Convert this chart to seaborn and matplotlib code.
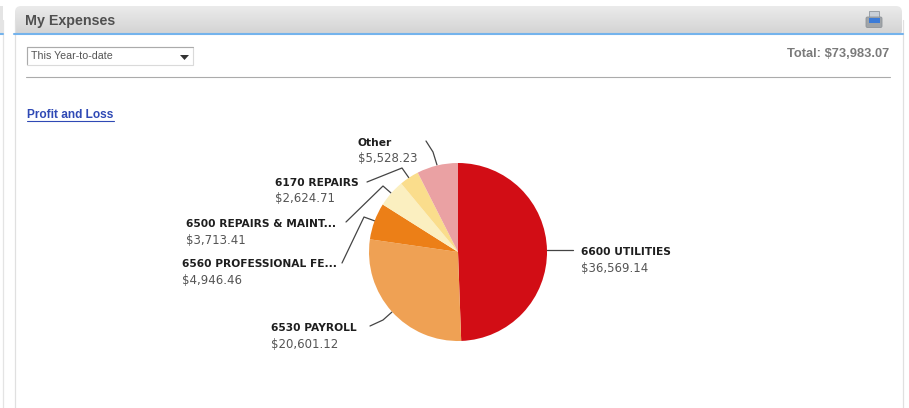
import matplotlib
matplotlib.use("Agg")
import matplotlib.pyplot as plt
import numpy as np
import seaborn as sns
from matplotlib.patches import FancyBboxPatch, Polygon, Rectangle

categories = [
    "6600 UTILITIES",
    "6530 PAYROLL",
    "6560 PROFESSIONAL FE...",
    "6500 REPAIRS & MAINT...",
    "6170 REPAIRS",
    "Other",
]
amounts = [36569.14, 20601.12, 4946.46, 3713.41, 2624.71, 5528.23]
amount_labels = ["$36,569.14", "$20,601.12", "$4,946.46", "$3,713.41", "$2,624.71", "$5,528.23"]
colors = ["#D20D15", "#EFA154", "#EC7F17", "#FBEFC0", "#FADD8C", "#EAA1A3"]
title = "My Expenses"
total_label = "Total: $73,983.07"
period_label = "This Year-to-date"
link_label = "Profit and Loss"

W, H = 909, 408
CENTER = (458, 252)
RADIUS = 89

# pixel position of each label (left edge, name baseline centre), same order as categories
label_pos = [(581, 252), (271, 328), (182, 264), (186, 224), (275, 183), (358, 143)]
leaders = [
    [(546, 250), (573, 250)],
    [(370, 326), (383, 320), (392, 312)],
    [(342, 263), (364, 217), (375, 221)],
    [(346, 222), (383, 186), (391, 193)],
    [(367, 182), (402, 168), (409, 178)],
    [(426, 141), (433, 152), (437, 165)],
]

sns.set_theme(style="white")

fig = plt.figure(figsize=(W / 100, H / 100), dpi=100, facecolor="white")
ax = fig.add_axes([0, 0, 1, 1])
ax.set_xlim(0, W)
ax.set_ylim(H, 0)
ax.axis("off")

# panel frame and header
ax.plot([14.5, 14.5], [20, H], color="#E0E0E0", lw=0.9)
ax.plot([902.5, 902.5], [20, H], color="#E0E0E0", lw=0.9)
ax.plot([2.5, 2.5], [20, H], color="#E4E4E4", lw=0.9)
ax.add_patch(Rectangle((0, 6), 3, 27, color="#E4E4E4", lw=0))
ax.plot([0, 3], [34, 34], color="#74B3EC", lw=1.5)

clip = FancyBboxPatch((15, 6), 887, 30, boxstyle="round,pad=0,rounding_size=6",
                      transform=ax.transData, fc="none", ec="none")
ax.add_patch(clip)
gradient = np.linspace(0.92, 0.83, 40).reshape(-1, 1)
header = ax.imshow(gradient, extent=(14, 903, 33, 6), cmap="gray", vmin=0, vmax=1,
                   aspect="auto", zorder=1)
header.set_clip_path(clip)
ax.set_xlim(0, W)
ax.set_ylim(H, 0)
ax.plot([14, 903], [34, 34], color="#74B3EC", lw=1.5, zorder=2)

ax.text(25, 20.5, title, family="Liberation Sans", weight="bold", fontsize=10.3,
        color="#505050", va="center", ha="left")

# printer icon
ax.add_patch(Rectangle((869, 11), 10, 7, fc="#C9D0D8", ec="#9AA1A8", lw=0.7, zorder=3))
ax.add_patch(FancyBboxPatch((866, 17), 16, 10.5, boxstyle="round,pad=0,rounding_size=1.5",
                            fc="#A0A4A8", ec="#8F9499", lw=0.6, zorder=3))
ax.add_patch(Rectangle((869, 18), 11, 4.5, fc="#3B7BD8", lw=0, zorder=4))

# dropdown
ax.add_patch(Rectangle((27, 47), 166, 17.5, fc="white", ec="#DADADA", lw=0.8))
ax.plot([27, 27, 193], [64, 47, 47], color="#ABABAB", lw=0.8)
ax.text(31, 56, period_label, family="Liberation Sans", fontsize=7.7, color="#555555",
        va="center", ha="left")
ax.add_patch(Polygon([(180, 55), (189, 55), (184.5, 60)], fc="#333333", lw=0))

ax.text(889, 54, total_label, family="Liberation Sans", weight="bold", fontsize=9.25,
        color="#7A7A7A", va="center", ha="right")
ax.plot([26, 890], [76.5, 76.5], color="#ABABAB", lw=0.8)

ax.text(27, 115, link_label, family="Liberation Sans", weight="bold", fontsize=8.6,
        color="#2F49B5", va="center", ha="left")
ax.plot([27, 114], [120.5, 120.5], color="#2F49B5", lw=0.8)

# leader lines and labels
for pts in leaders:
    ax.plot([p[0] for p in pts], [p[1] for p in pts], color="#444444", lw=0.9, zorder=2)

for name, amount, (x, y) in zip(categories, amount_labels, label_pos):
    ax.text(x, y, name, family="DejaVu Sans", weight="bold", fontsize=7.7, color="#1E1E1E",
            va="center", ha="left")
    ax.text(x, y + 16, amount, family="DejaVu Sans", fontsize=8.5, color="#555555",
            va="center", ha="left")

# pie
pie_ax = fig.add_axes([(CENTER[0] - RADIUS) / W, 1 - (CENTER[1] + RADIUS) / H,
                       2 * RADIUS / W, 2 * RADIUS / H])
pie_ax.pie(amounts, colors=colors, startangle=90, counterclock=False, radius=1,
           wedgeprops={"linewidth": 0})
pie_ax.set_xlim(-1, 1)
pie_ax.set_ylim(-1, 1)
pie_ax.patch.set_alpha(0)

fig.savefig("out.png", dpi=100)
